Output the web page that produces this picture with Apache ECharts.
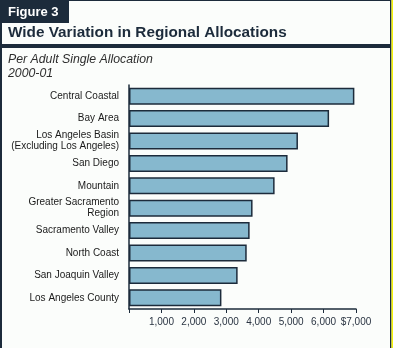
<!DOCTYPE html>
<html>
<head>
<meta charset="utf-8">
<script src="https://cdn.jsdelivr.net/npm/echarts@6/dist/echarts.min.js"></script>
<style>
  html, body { margin: 0; padding: 0; background: #fbfdfb; }
  #chart { width: 393px; height: 348px; }
</style>
</head>
<body>
<div id="chart"></div>
<script>
// Regions, top to bottom
const regions = [
  'Central Coastal',
  'Bay Area',
  'Los Angeles Basin\n(Excluding Los Angeles)',
  'San Diego',
  'Mountain',
  'Greater Sacramento\nRegion',
  'Sacramento Valley',
  'North Coast',
  'San Joaquin Valley',
  'Los Angeles County'
];
// Per adult single allocation, 2000-01 (dollars)
const allocations = [6950, 6170, 5210, 4890, 4490, 3810, 3720, 3630, 3350, 2850];
// Axis tick values
const tickValues = [0, 1000, 2000, 3000, 4000, 5000, 6000, 7000];

const NAVY = '#1c2b3b';
const FONT = '"Liberation Sans", Arial, sans-serif';

function fmtTick(v) {
  if (v === 0) return '';
  const s = v.toLocaleString('en-US');
  return v === tickValues[tickValues.length - 1] ? '$' + s : s;
}

const chart = echarts.init(document.getElementById('chart'), null, { renderer: 'canvas' });
chart.setOption({
  backgroundColor: '#fbfdfb',
  animation: false,
  grid: { left: 129, right: 37, top: 85, bottom: 39, containLabel: false },
  xAxis: {
    type: 'value',
    min: tickValues[0],
    max: tickValues[tickValues.length - 1],
    interval: 1000,
    splitLine: { show: false },
    axisLine: { show: true, lineStyle: { color: NAVY, width: 1.5 } },
    axisTick: { show: true, length: 4, lineStyle: { color: NAVY, width: 1 } },
    axisLabel: { formatter: fmtTick, color: '#2a3442', fontSize: 10, fontFamily: FONT, margin: 8 }
  },
  yAxis: {
    type: 'category',
    data: regions,
    inverse: true,
    axisLine: { show: true, lineStyle: { color: NAVY, width: 1.5 } },
    axisTick: { show: false },
    axisLabel: { color: '#1a1a1a', fontSize: 10, fontFamily: FONT, margin: 10, lineHeight: 11 }
  },
  series: [{
    type: 'bar',
    data: allocations,
    barCategoryGap: '24%',
    itemStyle: { color: '#86b8ce', borderColor: NAVY, borderWidth: 1.5 }
  }],
  graphic: [
    // outer frame
    { type: 'rect', shape: { x: 0, y: 0, width: 2, height: 348 }, style: { fill: NAVY } },
    { type: 'rect', shape: { x: 0, y: 0, width: 391, height: 1 }, style: { fill: NAVY } },
    { type: 'rect', shape: { x: 390, y: 0, width: 1.5, height: 348 }, style: { fill: NAVY } },
    { type: 'rect', shape: { x: 391.5, y: 0, width: 2, height: 348 }, style: { fill: '#f4f20a' } },
    // figure tab
    { type: 'rect', shape: { x: 0, y: 0, width: 69, height: 23 }, style: { fill: NAVY } },
    { type: 'text', left: 8, top: 6, style: { text: 'Figure 3', fill: '#ffffff', font: 'bold 13px ' + FONT } },
    // title
    { type: 'text', left: 8, top: 25.5, style: { text: 'Wide Variation in Regional Allocations', fill: NAVY, font: 'bold 15.3px ' + FONT } },
    { type: 'rect', shape: { x: 0, y: 44, width: 391, height: 4 }, style: { fill: NAVY } },
    // subtitle
    { type: 'text', left: 8, top: 52.5, style: { text: 'Per Adult Single Allocation\n2000-01', fill: '#2e2e2e', font: 'italic 12.3px ' + FONT, lineHeight: 14 } }
  ]
});
</script>
</body>
</html>
